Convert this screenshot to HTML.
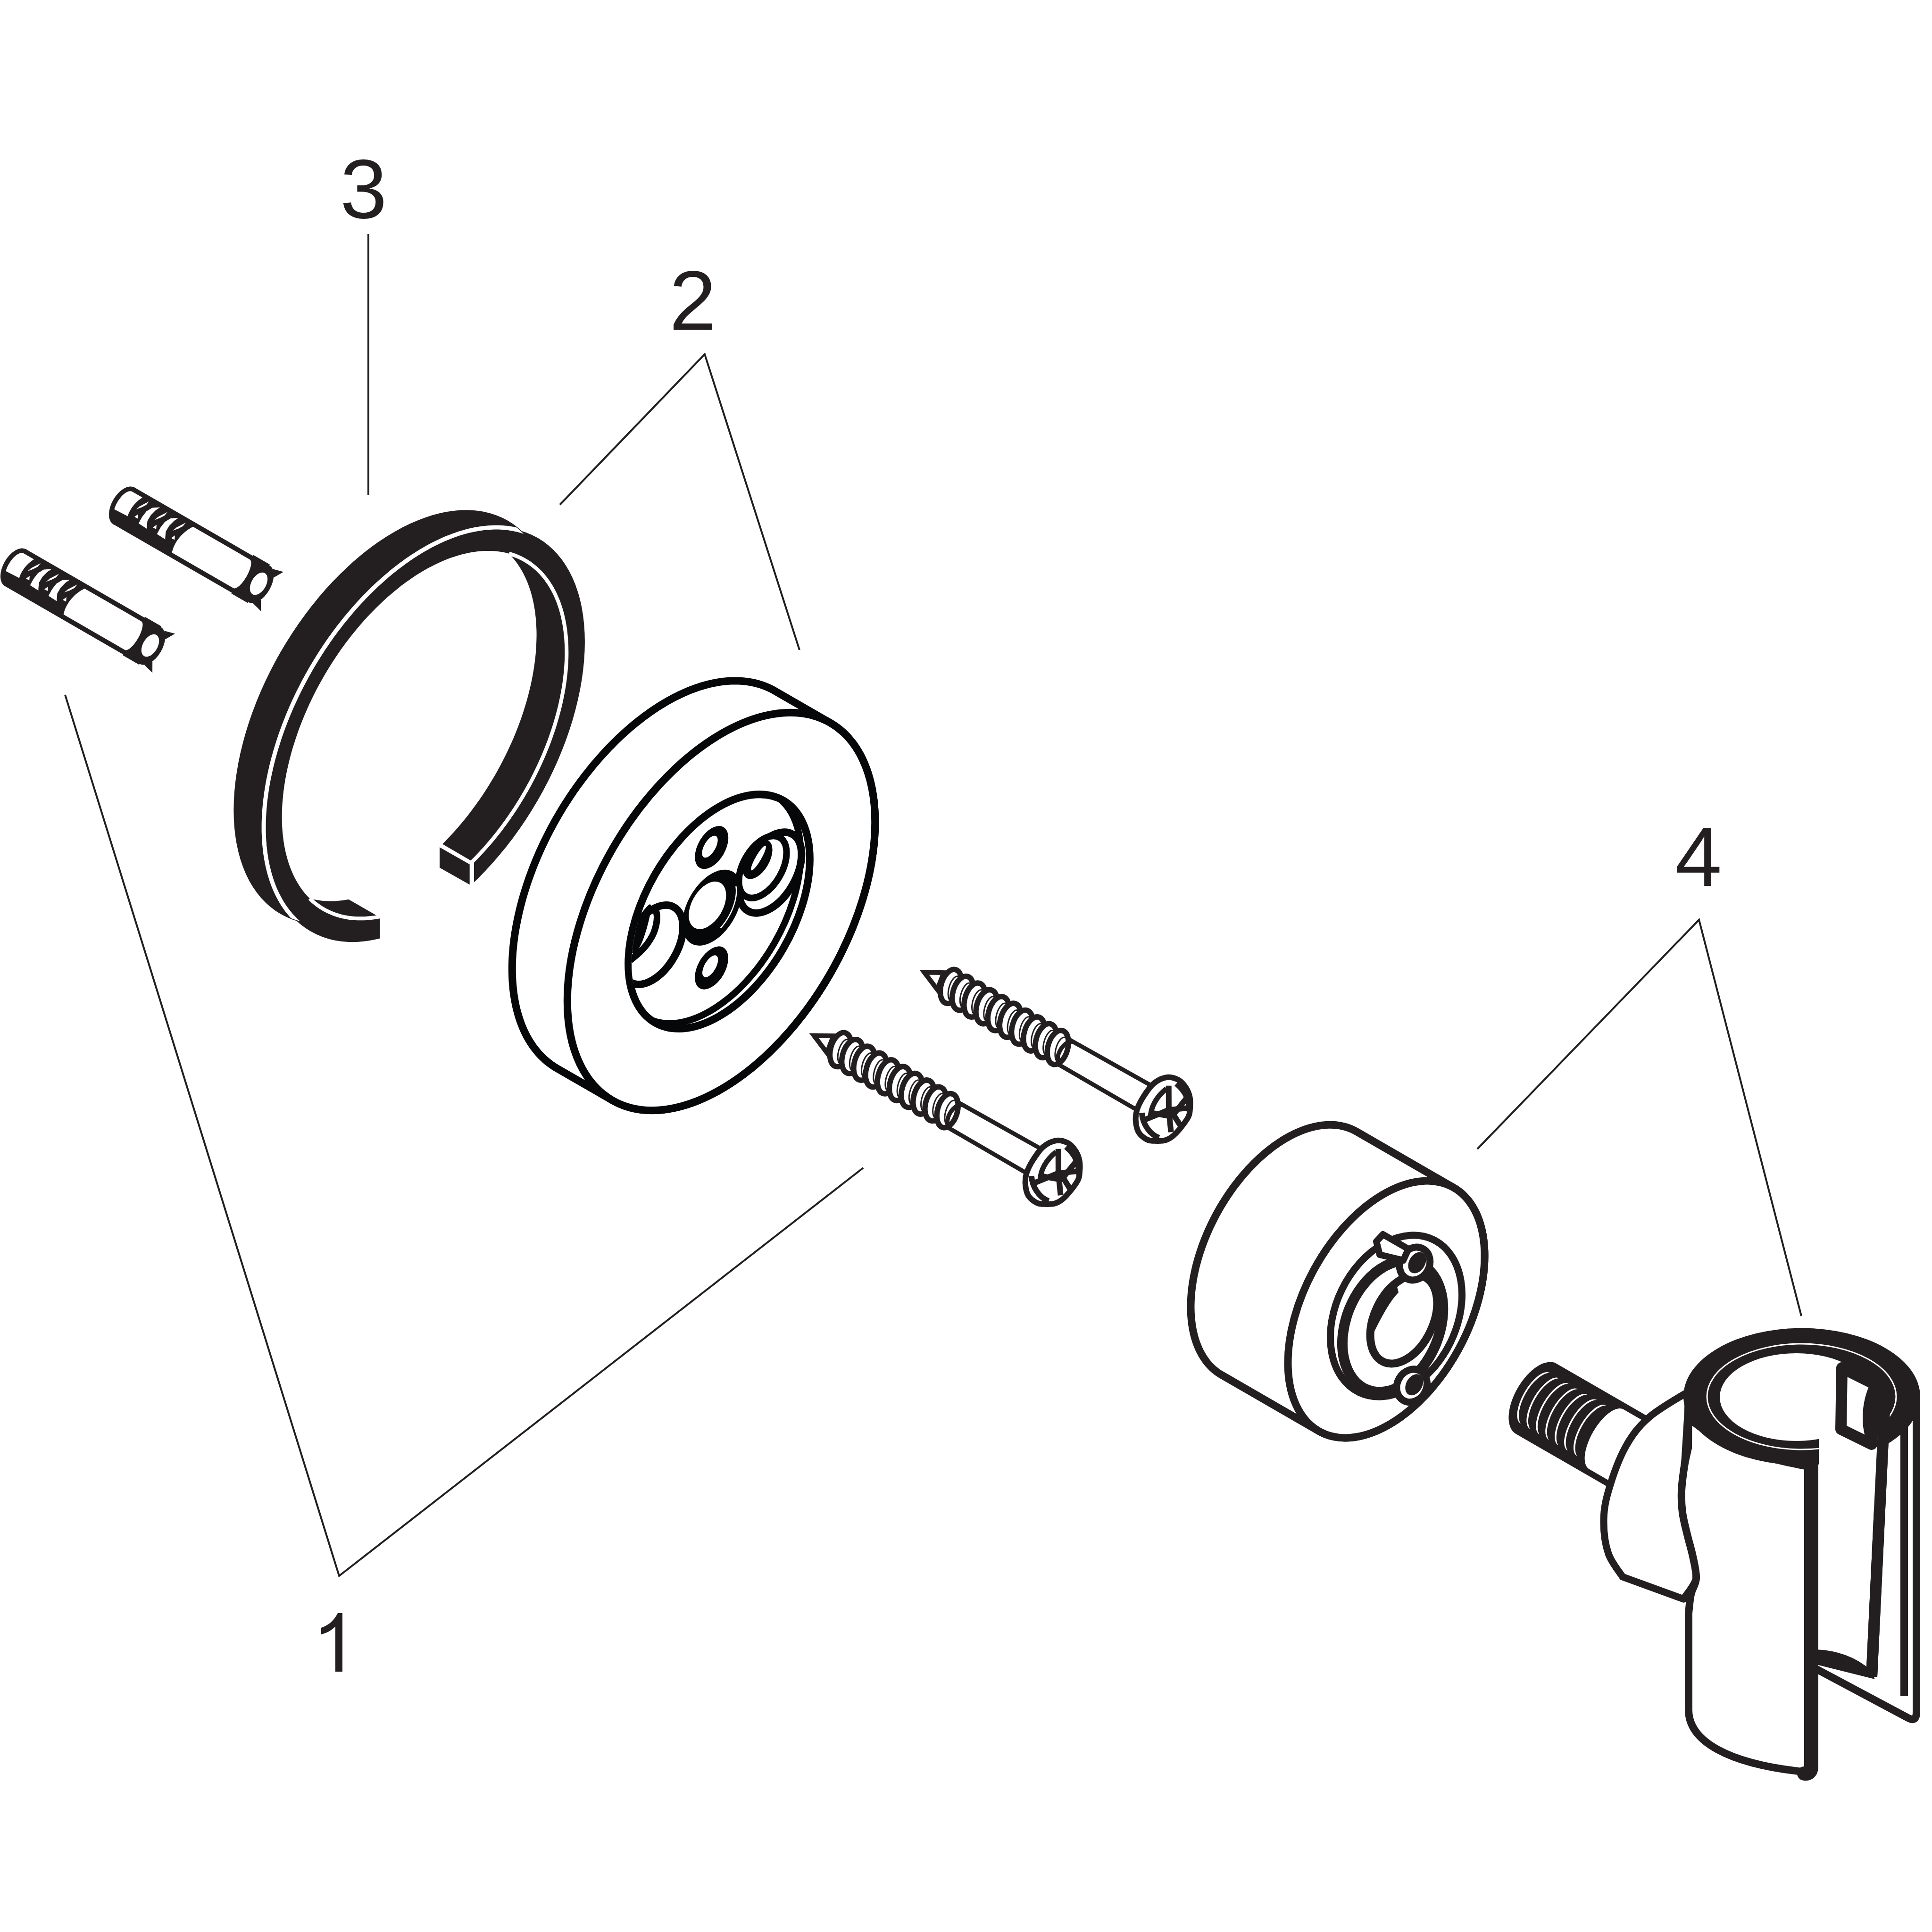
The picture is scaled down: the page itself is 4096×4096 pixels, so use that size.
<!DOCTYPE html>
<html><head><meta charset="utf-8"><style>html,body{margin:0;padding:0;background:#fff;width:4096px;height:4096px;overflow:hidden}svg{display:block}</style></head><body>
<svg xmlns="http://www.w3.org/2000/svg" xmlns:xlink="http://www.w3.org/1999/xlink" width="4096" height="4096" viewBox="0 0 4096 4096">
<rect width="4096" height="4096" fill="#fff"/>
<defs><g id="dowel">
<path d="M-330 -45 L-40 -45 L-40 -47 L0 -47 L0 47 L-40 47 L-40 45 L-330 45 Z" fill="#231f20"/>
<ellipse cx="-330" cy="0" rx="26" ry="45" fill="#231f20"/>
<ellipse cx="0" cy="0" rx="26" ry="45" fill="#231f20"/>
<path d="M-181 -35 L-42 -35 A12 35 0 0 1 -42 35 L-192 35 C-198 20 -198 -10 -181 -35 Z" fill="#fff"/>
<path d="M-304.8 -35 L-330 -35 A16 35 0 0 0 -344.1 16.5 L-312 15 C-316 0 -313 -20 -304.8 -35 Z" fill="#fff"/>
<path d="M-284.5 16.7 L-284.9 1.4 L-283 -14 L-275.9 -26.5 L-262.1 -35.7 L-267 -25.6 L-270.8 -11.5 L-270.9 2.8 L-265.6 14.2 L-263.6 17.7 Z" fill="#fff"/>
<path d="M-304 -6.3 L-300.5 -16.3 L-288.5 -34.8 L-290 -25.3 L-295.5 -16.8 Z" fill="#fff"/>
<path d="M-299 9 L-295 0.1 L-291 8.7 Z" fill="#fff"/>
<path d="M-239.5 16.7 L-239.9 1.4 L-238 -14 L-230.9 -26.5 L-217.1 -35.7 L-222 -25.6 L-225.8 -11.5 L-225.9 2.8 L-220.6 14.2 L-218.6 17.7 Z" fill="#fff"/>
<path d="M-259 -6.3 L-255.5 -16.3 L-243.5 -34.8 L-245 -25.3 L-250.5 -16.8 Z" fill="#fff"/>
<path d="M-254 9 L-250 0.1 L-246 8.7 Z" fill="#fff"/>
<path d="M-214 -6.3 L-210.5 -16.3 L-198.5 -34.8 L-200 -25.3 L-205.5 -16.8 Z" fill="#fff"/>
<path d="M-209 9 L-205 0.1 L-201 8.7 Z" fill="#fff"/>
<ellipse cx="0" cy="0" rx="15.6" ry="26" fill="#fff"/>
<path d="M10 -42 L33 -48 L21 -27 Z M10 42 L33 48 L21 27 Z" fill="#231f20"/>
</g><g id="screw">
<path d="M340 -28.5 L540 -30 L540 30 L340 28.5" fill="#fff" stroke="#231f20" stroke-width="9"/>
<path d="M4 0 L40 -20 L46 18 Z" fill="#fff" stroke="#231f20" stroke-width="10" stroke-linejoin="miter"/>
<ellipse cx="67.7" cy="-2" rx="21" ry="37" transform="rotate(-14 67.7 -2)" fill="#fff" stroke="#231f20" stroke-width="11.5"/>
<ellipse cx="76.7" cy="-2" rx="12" ry="27" transform="rotate(-14 76.7 -2)" fill="none" stroke="#231f20" stroke-width="3"/>
<ellipse cx="96.7" cy="-2" rx="21" ry="37" transform="rotate(-14 96.7 -2)" fill="#fff" stroke="#231f20" stroke-width="11.5"/>
<ellipse cx="105.7" cy="-2" rx="12" ry="27" transform="rotate(-14 105.7 -2)" fill="none" stroke="#231f20" stroke-width="3"/>
<ellipse cx="125.7" cy="-2" rx="21" ry="37" transform="rotate(-14 125.7 -2)" fill="#fff" stroke="#231f20" stroke-width="11.5"/>
<ellipse cx="134.7" cy="-2" rx="12" ry="27" transform="rotate(-14 134.7 -2)" fill="none" stroke="#231f20" stroke-width="3"/>
<ellipse cx="154.7" cy="-2" rx="21" ry="37" transform="rotate(-14 154.7 -2)" fill="#fff" stroke="#231f20" stroke-width="11.5"/>
<ellipse cx="163.7" cy="-2" rx="12" ry="27" transform="rotate(-14 163.7 -2)" fill="none" stroke="#231f20" stroke-width="3"/>
<ellipse cx="183.7" cy="-2" rx="21" ry="37" transform="rotate(-14 183.7 -2)" fill="#fff" stroke="#231f20" stroke-width="11.5"/>
<ellipse cx="192.7" cy="-2" rx="12" ry="27" transform="rotate(-14 192.7 -2)" fill="none" stroke="#231f20" stroke-width="3"/>
<ellipse cx="212.7" cy="-2" rx="21" ry="37" transform="rotate(-14 212.7 -2)" fill="#fff" stroke="#231f20" stroke-width="11.5"/>
<ellipse cx="221.7" cy="-2" rx="12" ry="27" transform="rotate(-14 221.7 -2)" fill="none" stroke="#231f20" stroke-width="3"/>
<ellipse cx="241.7" cy="-2" rx="21" ry="37" transform="rotate(-14 241.7 -2)" fill="#fff" stroke="#231f20" stroke-width="11.5"/>
<ellipse cx="250.7" cy="-2" rx="12" ry="27" transform="rotate(-14 250.7 -2)" fill="none" stroke="#231f20" stroke-width="3"/>
<ellipse cx="270.7" cy="-2" rx="21" ry="37" transform="rotate(-14 270.7 -2)" fill="#fff" stroke="#231f20" stroke-width="11.5"/>
<ellipse cx="279.7" cy="-2" rx="12" ry="27" transform="rotate(-14 279.7 -2)" fill="none" stroke="#231f20" stroke-width="3"/>
<ellipse cx="299.7" cy="-2" rx="21" ry="37" transform="rotate(-14 299.7 -2)" fill="#fff" stroke="#231f20" stroke-width="11.5"/>
<ellipse cx="308.7" cy="-2" rx="12" ry="27" transform="rotate(-14 308.7 -2)" fill="none" stroke="#231f20" stroke-width="3"/>
<ellipse cx="328.7" cy="-2" rx="21" ry="37" transform="rotate(-14 328.7 -2)" fill="#fff" stroke="#231f20" stroke-width="11.5"/>
<ellipse cx="337.7" cy="-2" rx="12" ry="27" transform="rotate(-14 337.7 -2)" fill="none" stroke="#231f20" stroke-width="3"/>
<path d="M352 -28 A 16 28 0 0 0 352 28" fill="none" stroke="#231f20" stroke-width="9"/>
<path d="M543 -36 C546.7 -46.2 553.2 -55.5 560 -61 C566.8 -66.5 576.3 -68.7 584 -69 C591.7 -69.3 599.3 -66.3 606 -63 C612.7 -59.7 619 -54.7 624 -49 C629 -43.3 633 -35.7 636 -29 C639 -22.3 642 -19.3 642 -9 C642 1.3 638.8 22.3 636 33 C633.2 43.7 630.3 49 625 55 C619.7 61 610.2 65.8 604 69 C597.8 72.2 594.3 74 588 74 C581.7 74 572.5 72.8 566 69 C559.5 65.2 553.3 57.5 549 51 C544.7 44.5 541.8 38.5 540 30 C538.2 21.5 537.5 11 538 0 C538.5 -11 539.3 -25.8 543 -36 Z" fill="#fff" stroke="#231f20" stroke-width="12"/>
<path d="M572 -40 C562 -15 562 10 573 30" fill="none" stroke="#231f20" stroke-width="11"/>
<g stroke="#231f20" stroke-width="12" fill="none" stroke-linejoin="round">
<path d="M573 -48 L598.6 -3.5 L633 -28"/>
<path d="M561 44.5 L598.6 -3.5 L626 35"/>
<path d="M585 -60 C610 -55 625 -45 640 -20"/>
<path d="M552 30 C565 50 590 62 610 58"/>
<path d="M620 -50 L612 0 L640 15"/>
<path d="M570 20 L612 5"/>
</g>
</g></defs>
<g font-family="Liberation Sans" font-size="179" fill="#231f20">
<text x="721" y="462">3</text>
<text x="1419" y="699">2</text>
<text x="3551" y="1878">4</text>
</g>
<path d="M711 3544 L726 3544 L726 3420 L716 3420 C708 3436 696 3446 681 3451 L681 3465 C693 3462 704 3456 711 3448 Z" fill="#231f20"/>
<g stroke="#231f20" stroke-width="4" fill="none">
<line x1="781" y1="496" x2="781" y2="1050"/>
<polyline points="1187,1070 1494,751 1695,1378"/>
<polyline points="138,1473 719,3341 1830,2476"/>
<polyline points="3132,2436 3602,1950 3819,2790"/>
</g>
<use href="#dowel" transform="translate(548.5 1237.5) rotate(30)"/>
<use href="#dowel" transform="translate(318.5 1368.5) rotate(30)"/>
<ellipse cx="835.8" cy="1520.8" rx="481.5" ry="277.9" transform="rotate(-60 835.8 1520.8)" fill="#231f20"/>
<ellipse cx="899.5" cy="1557.6" rx="481.5" ry="277.9" transform="rotate(-60 899.5 1557.6)" fill="#231f20"/>
<clipPath id="rFI"><path d="M1113 1187.8 L1118.5 1191.2 L1123.9 1194.8 L1129.1 1198.6 L1134.1 1202.7 L1139 1207 L1143.7 1211.6 L1148.3 1216.4 L1152.7 1221.5 L1156.9 1226.8 L1160.9 1232.3 L1164.8 1238 L1168.5 1244 L1172 1250.1 L1175.3 1256.5 L1178.4 1263.1 L1181.3 1269.9 L1184 1276.8 L1186.6 1284 L1188.9 1291.4 L1191 1298.9 L1193 1306.6 L1194.7 1314.5 L1196.3 1322.6 L1197.6 1330.8 L1198.7 1339.2 L1199.7 1347.7 L1200.4 1356.4 L1200.9 1365.2 L1201.2 1374.1 L1201.3 1383.2 L1201.2 1392.4 L1200.9 1401.7 L1200.4 1411.1 L1199.6 1420.6 L1198.7 1430.2 L1197.6 1439.9 L1196.2 1449.6 L1194.7 1459.5 L1192.9 1469.4 L1191 1479.4 L1188.8 1489.4 L1186.5 1499.4 L1183.9 1509.6 L1181.2 1519.7 L1178.3 1529.9 L1175.1 1540 L1171.8 1550.2 L1168.3 1560.5 L1164.7 1570.7 L1160.8 1580.8 L1156.7 1591 L1152.5 1601.2 L1148.1 1611.3 L1143.6 1621.4 L1138.8 1631.4 L1134 1641.4 L1128.9 1651.4 L1123.7 1661.2 L1118.3 1671 L1112.8 1680.8 L1107.1 1690.4 L1101.3 1699.9 L1095.4 1709.4 L1089.3 1718.7 L1083.1 1728 L1076.8 1737.1 L1070.3 1746.1 L1063.8 1754.9 L1057.1 1763.7 L1050.3 1772.3 L1043.4 1780.7 L1036.4 1789 L1029.3 1797.1 L1022.1 1805.1 L1014.9 1812.9 L1007.5 1820.5 L1000.1 1828 L992.6 1835.2 L985.1 1842.3 L977.5 1849.1 L969.8 1855.8 L962.1 1862.3 L954.4 1868.5 L946.6 1874.6 L938.8 1880.4 L930.9 1886 L923 1891.4 L915.2 1896.6 L907.3 1901.5 L899.4 1906.2 L891.5 1910.6 L883.6 1914.8 L875.7 1918.8 L867.8 1922.5 L860 1925.9 L852.2 1929.2 L844.4 1932.1 L836.6 1934.8 L828.9 1937.2 L821.3 1939.4 L813.7 1941.3 L806.1 1943 L798.6 1944.4 L791.2 1945.5 L783.9 1946.4 L776.6 1947 L769.4 1947.3 L762.4 1947.3 L755.4 1947.1 L748.5 1946.7 L741.7 1945.9 L735 1944.9 L728.4 1943.6 L722 1942.1 L715.7 1940.3 L709.5 1938.2 L703.4 1935.9 L697.5 1933.3 L691.7 1930.5 L686 1927.4 L680.5 1924 L675.1 1920.4 L669.9 1916.6 L664.9 1912.5 L660 1908.2 L655.3 1903.6 L650.7 1898.8 L646.3 1893.7 L642.1 1888.4 L638.1 1882.9 L634.2 1877.2 L630.5 1871.2 L627 1865.1 L623.7 1858.7 L620.6 1852.1 L617.7 1845.3 L615 1838.4 L612.4 1831.2 L610.1 1823.8 L608 1816.3 L606 1808.6 L604.3 1800.7 L602.7 1792.6 L601.4 1784.4 L600.3 1776 L599.3 1767.5 L598.6 1758.8 L598.1 1750 L597.8 1741.1 L597.7 1732 L597.8 1722.8 L598.1 1713.5 L598.6 1704.1 L599.4 1694.6 L600.3 1685 L601.4 1675.3 L602.8 1665.6 L604.3 1655.7 L606.1 1645.8 L608 1635.8 L610.2 1625.8 L612.5 1615.8 L615.1 1605.6 L617.8 1595.5 L620.7 1585.3 L623.9 1575.2 L627.2 1565 L630.7 1554.7 L634.3 1544.5 L638.2 1534.4 L642.3 1524.2 L646.5 1514 L650.9 1503.9 L655.4 1493.8 L660.2 1483.8 L665 1473.8 L670.1 1463.8 L675.3 1454 L680.7 1444.2 L686.2 1434.4 L691.9 1424.8 L697.7 1415.3 L703.6 1405.8 L709.7 1396.5 L715.9 1387.2 L722.2 1378.1 L728.7 1369.1 L735.2 1360.3 L741.9 1351.5 L748.7 1342.9 L755.6 1334.5 L762.6 1326.2 L769.7 1318.1 L776.9 1310.1 L784.1 1302.3 L791.5 1294.7 L798.9 1287.2 L806.4 1280 L813.9 1272.9 L821.5 1266.1 L829.2 1259.4 L836.9 1252.9 L844.6 1246.7 L852.4 1240.6 L860.2 1234.8 L868.1 1229.2 L876 1223.8 L883.8 1218.6 L891.7 1213.7 L899.6 1209 L907.5 1204.6 L915.4 1200.4 L923.3 1196.4 L931.2 1192.7 L939 1189.3 L946.8 1186 L954.6 1183.1 L962.4 1180.4 L970.1 1178 L977.7 1175.8 L985.3 1173.9 L992.9 1172.2 L1000.4 1170.8 L1007.8 1169.7 L1015.1 1168.8 L1022.4 1168.2 L1029.6 1167.9 L1036.6 1167.9 L1043.6 1168.1 L1050.5 1168.5 L1057.3 1169.3 L1064 1170.3 L1070.6 1171.6 L1077 1173.1 L1083.3 1174.9 L1089.5 1177 L1095.6 1179.3 L1101.5 1181.9 L1107.3 1184.7 L1113 1187.8 Z"/></clipPath>
<path d="M1049.3 1151 L1054.8 1154.4 L1060.1 1158 L1065.3 1161.8 L1070.4 1165.9 L1075.3 1170.2 L1080 1174.8 L1084.6 1179.6 L1088.9 1184.7 L1093.2 1190 L1097.2 1195.5 L1101 1201.2 L1104.7 1207.2 L1108.2 1213.3 L1111.5 1219.7 L1114.6 1226.3 L1117.6 1233.1 L1120.3 1240 L1122.8 1247.2 L1125.2 1254.6 L1127.3 1262.1 L1129.2 1269.8 L1131 1277.7 L1132.5 1285.8 L1133.9 1294 L1135 1302.4 L1135.9 1310.9 L1136.6 1319.6 L1137.1 1328.4 L1137.5 1337.3 L1137.6 1346.4 L1137.4 1355.6 L1137.1 1364.9 L1136.6 1374.3 L1135.9 1383.8 L1135 1393.4 L1133.8 1403.1 L1132.5 1412.8 L1130.9 1422.7 L1129.2 1432.6 L1127.2 1442.6 L1125.1 1452.6 L1122.7 1462.6 L1120.2 1472.8 L1117.5 1482.9 L1114.5 1493.1 L1111.4 1503.2 L1108.1 1513.4 L1104.6 1523.7 L1100.9 1533.9 L1097.1 1544 L1093 1554.2 L1088.8 1564.4 L1084.4 1574.5 L1079.8 1584.6 L1075.1 1594.6 L1070.2 1604.6 L1065.2 1614.6 L1059.9 1624.4 L1054.6 1634.2 L1049.1 1644 L1043.4 1653.6 L1037.6 1663.1 L1031.7 1672.6 L1025.6 1681.9 L1019.4 1691.2 L1013 1700.3 L1006.6 1709.3 L1000 1718.1 L993.3 1726.9 L986.5 1735.5 L979.6 1743.9 L972.6 1752.2 L965.6 1760.3 L958.4 1768.3 L951.1 1776.1 L943.8 1783.7 L936.4 1791.2 L928.9 1798.4 L921.3 1805.5 L913.7 1812.3 L906.1 1819 L898.4 1825.5 L890.6 1831.7 L882.8 1837.8 L875 1843.6 L867.2 1849.2 L859.3 1854.6 L851.4 1859.8 L843.5 1864.7 L835.6 1869.4 L827.7 1873.8 L819.8 1878 L811.9 1882 L804.1 1885.7 L796.2 1889.1 L788.4 1892.4 L780.6 1895.3 L772.9 1898 L765.2 1900.4 L757.5 1902.6 L749.9 1904.5 L742.4 1906.2 L734.9 1907.6 L727.5 1908.7 L720.1 1909.6 L712.9 1910.2 L705.7 1910.5 L698.6 1910.5 L691.6 1910.3 L684.7 1909.9 L678 1909.1 L671.3 1908.1 L664.7 1906.8 L658.3 1905.3 L651.9 1903.5 L645.7 1901.4 L639.7 1899.1 L633.7 1896.5 L627.9 1893.7 L622.3 1890.6 L616.8 1887.2 L611.4 1883.6 L606.2 1879.8 L601.1 1875.7 L596.2 1871.4 L591.5 1866.8 L587 1862 L582.6 1856.9 L578.4 1851.6 L574.3 1846.1 L570.5 1840.4 L566.8 1834.4 L563.3 1828.3 L560 1821.9 L556.9 1815.3 L554 1808.5 L551.2 1801.6 L548.7 1794.4 L546.4 1787 L544.2 1779.5 L542.3 1771.8 L540.5 1763.9 L539 1755.8 L537.7 1747.6 L536.5 1739.2 L535.6 1730.7 L534.9 1722 L534.4 1713.2 L534.1 1704.3 L534 1695.2 L534.1 1686 L534.4 1676.7 L534.9 1667.3 L535.6 1657.8 L536.6 1648.2 L537.7 1638.5 L539 1628.8 L540.6 1618.9 L542.3 1609 L544.3 1599 L546.4 1589 L548.8 1579 L551.3 1568.8 L554.1 1558.7 L557 1548.5 L560.1 1538.4 L563.4 1528.2 L566.9 1517.9 L570.6 1507.7 L574.5 1497.6 L578.5 1487.4 L582.7 1477.2 L587.1 1467.1 L591.7 1457 L596.4 1447 L601.3 1437 L606.4 1427 L611.6 1417.2 L616.9 1407.4 L622.5 1397.6 L628.1 1388 L633.9 1378.5 L639.9 1369 L645.9 1359.7 L652.2 1350.4 L658.5 1341.3 L664.9 1332.3 L671.5 1323.5 L678.2 1314.7 L685 1306.1 L691.9 1297.7 L698.9 1289.4 L706 1281.3 L713.1 1273.3 L720.4 1265.5 L727.7 1257.9 L735.2 1250.4 L742.6 1243.2 L750.2 1236.1 L757.8 1229.3 L765.4 1222.6 L773.2 1216.1 L780.9 1209.9 L788.7 1203.8 L796.5 1198 L804.4 1192.4 L812.2 1187 L820.1 1181.8 L828 1176.9 L835.9 1172.2 L843.8 1167.8 L851.7 1163.6 L859.6 1159.6 L867.4 1155.9 L875.3 1152.5 L883.1 1149.2 L890.9 1146.3 L898.6 1143.6 L906.3 1141.2 L914 1139 L921.6 1137.1 L929.2 1135.4 L936.6 1134 L944 1132.9 L951.4 1132 L958.6 1131.4 L965.8 1131.1 L972.9 1131.1 L979.9 1131.3 L986.8 1131.7 L993.6 1132.5 L1000.2 1133.5 L1006.8 1134.8 L1013.3 1136.3 L1019.6 1138.1 L1025.8 1140.2 L1031.9 1142.5 L1037.8 1145.1 L1043.6 1147.9 L1049.3 1151 Z" fill="#fff" clip-path="url(#rFI)"/>
<clipPath id="rBO"><path d="M1075.8 1105.1 L1081.9 1108.9 L1088 1112.9 L1093.8 1117.2 L1099.5 1121.8 L1105 1126.7 L1110.3 1131.8 L1115.4 1137.3 L1120.3 1142.9 L1125 1148.9 L1129.5 1155 L1133.9 1161.5 L1138 1168.2 L1141.9 1175.1 L1145.6 1182.2 L1149.1 1189.6 L1152.4 1197.3 L1155.4 1205.1 L1158.3 1213.2 L1160.9 1221.4 L1163.3 1229.9 L1165.5 1238.6 L1167.4 1247.4 L1169.1 1256.5 L1170.6 1265.7 L1171.9 1275.1 L1172.9 1284.7 L1173.7 1294.5 L1174.3 1304.4 L1174.6 1314.4 L1174.7 1324.6 L1174.6 1334.9 L1174.2 1345.4 L1173.6 1355.9 L1172.8 1366.6 L1171.8 1377.4 L1170.5 1388.3 L1169 1399.2 L1167.2 1410.3 L1165.3 1421.4 L1163.1 1432.6 L1160.6 1443.9 L1158 1455.2 L1155.1 1466.6 L1152.1 1478 L1148.8 1489.4 L1145.2 1500.9 L1141.5 1512.3 L1137.6 1523.8 L1133.4 1535.2 L1129.1 1546.7 L1124.5 1558.1 L1119.8 1569.6 L1114.9 1580.9 L1109.7 1592.3 L1104.4 1603.6 L1098.9 1614.8 L1093.2 1626 L1087.4 1637.1 L1081.3 1648.1 L1075.1 1659 L1068.8 1669.8 L1062.2 1680.6 L1055.6 1691.2 L1048.7 1701.7 L1041.8 1712.1 L1034.6 1722.3 L1027.4 1732.4 L1020 1742.4 L1012.5 1752.2 L1004.9 1761.9 L997.1 1771.4 L989.3 1780.7 L981.3 1789.8 L973.2 1798.8 L965.1 1807.6 L956.8 1816.1 L948.5 1824.5 L940.1 1832.7 L931.6 1840.6 L923.1 1848.3 L914.5 1855.8 L905.8 1863.1 L897.1 1870.1 L888.3 1876.9 L879.6 1883.5 L870.7 1889.8 L861.9 1895.9 L853.1 1901.7 L844.2 1907.2 L835.3 1912.5 L826.4 1917.5 L817.6 1922.2 L808.7 1926.6 L799.9 1930.8 L791.1 1934.7 L782.3 1938.3 L773.6 1941.7 L764.8 1944.7 L756.2 1947.4 L747.6 1949.9 L739.1 1952.1 L730.6 1953.9 L722.2 1955.5 L713.9 1956.8 L705.6 1957.7 L697.5 1958.4 L689.4 1958.8 L681.5 1958.9 L673.6 1958.6 L665.9 1958.1 L658.3 1957.3 L650.8 1956.1 L643.4 1954.7 L636.2 1953 L629.1 1951 L622.1 1948.7 L615.3 1946.1 L608.6 1943.2 L602.1 1940 L595.8 1936.5 L589.6 1932.7 L583.6 1928.7 L577.7 1924.4 L572.1 1919.8 L566.6 1914.9 L561.3 1909.8 L556.2 1904.3 L551.2 1898.7 L546.5 1892.7 L542 1886.6 L537.7 1880.1 L533.5 1873.4 L529.6 1866.5 L525.9 1859.4 L522.4 1852 L519.1 1844.3 L516.1 1836.5 L513.2 1828.4 L510.6 1820.2 L508.2 1811.7 L506.1 1803 L504.1 1794.2 L502.4 1785.1 L500.9 1775.9 L499.6 1766.5 L498.6 1756.9 L497.8 1747.1 L497.2 1737.2 L496.9 1727.2 L496.8 1717 L496.9 1706.7 L497.3 1696.2 L497.9 1685.7 L498.7 1675 L499.8 1664.2 L501 1653.3 L502.6 1642.4 L504.3 1631.3 L506.3 1620.2 L508.5 1609 L510.9 1597.7 L513.5 1586.4 L516.4 1575 L519.5 1563.6 L522.8 1552.2 L526.3 1540.7 L530 1529.3 L533.9 1517.8 L538.1 1506.4 L542.4 1494.9 L547 1483.5 L551.7 1472 L556.7 1460.7 L561.8 1449.3 L567.1 1438 L572.6 1426.8 L578.3 1415.6 L584.2 1404.5 L590.2 1393.5 L596.4 1382.6 L602.8 1371.8 L609.3 1361 L616 1350.4 L622.8 1339.9 L629.8 1329.5 L636.9 1319.3 L644.1 1309.2 L651.5 1299.2 L659 1289.4 L666.7 1279.7 L674.4 1270.2 L682.3 1260.9 L690.2 1251.8 L698.3 1242.8 L706.5 1234 L714.7 1225.5 L723 1217.1 L731.4 1208.9 L739.9 1201 L748.5 1193.3 L757.1 1185.8 L765.7 1178.5 L774.4 1171.5 L783.2 1164.7 L792 1158.1 L800.8 1151.8 L809.6 1145.7 L818.5 1139.9 L827.3 1134.4 L836.2 1129.1 L845.1 1124.1 L853.9 1119.4 L862.8 1115 L871.6 1110.8 L880.4 1106.9 L889.2 1103.3 L898 1099.9 L906.7 1096.9 L915.3 1094.2 L923.9 1091.7 L932.5 1089.5 L940.9 1087.7 L949.3 1086.1 L957.7 1084.8 L965.9 1083.9 L974 1083.2 L982.1 1082.8 L990 1082.7 L997.9 1083 L1005.6 1083.5 L1013.2 1084.3 L1020.7 1085.5 L1028.1 1086.9 L1035.4 1088.6 L1042.5 1090.6 L1049.4 1092.9 L1056.2 1095.5 L1062.9 1098.4 L1069.4 1101.6 L1075.8 1105.1 Z"/></clipPath>
<path d="M632.3 1955.5 L629.3 1952.8 L626.3 1949.9 L623.4 1947 L620.5 1944 L617.7 1940.9 L614.9 1937.7 L612.3 1934.5 L609.6 1931.2 L607.1 1927.8 L604.6 1924.3 L602.1 1920.7 L599.7 1917.1 L597.4 1913.3 L595.2 1909.6 L593 1905.7 L590.9 1901.7 L588.8 1897.7 L586.8 1893.6 L584.9 1889.5 L583 1885.3 L581.2 1881 L579.5 1876.6 L577.9 1872.2 L576.3 1867.7 L574.8 1863.1 L573.3 1858.5 L571.9 1853.8 L570.6 1849 L569.4 1844.2 L568.2 1839.3 L567.1 1834.4 L566.1 1829.4 L565.1 1824.4 L564.2 1819.2 L563.4 1814.1 L562.6 1808.9 L562 1803.6 L561.4 1798.3 L560.8 1792.9 L560.4 1787.5 L560 1782 L559.6 1776.5 L559.4 1770.9 L559.2 1765.3 L559.1 1759.6 L559.1 1753.9 L559.1 1748.2 L559.2 1742.4 L559.4 1736.6 L559.7 1730.7 L560 1724.8 L560.4 1718.9 L560.9 1712.9 L561.4 1706.9 L562 1700.9 L562.7 1694.8 L563.5 1688.8 L564.3 1682.6 L565.2 1676.5 L566.2 1670.3 L567.2 1664.1 L568.3 1657.9 L569.5 1651.7 L570.8 1645.4 L572.1 1639.2 L573.5 1632.9 L574.9 1626.6 L576.5 1620.2 L578.1 1613.9 L579.7 1607.6 L581.5 1601.2 L583.3 1594.8 L585.1 1588.5 L587.1 1582.1 L589.1 1575.7 L591.1 1569.3 L593.2 1562.9 L595.4 1556.5 L597.7 1550.1 L600 1543.7 L602.4 1537.3 L604.9 1530.9 L607.4 1524.6 L609.9 1518.2 L612.6 1511.8 L615.3 1505.5 L618 1499.1 L620.8 1492.8 L623.7 1486.5 L626.7 1480.2 L629.6 1473.9 L632.7 1467.6 L635.8 1461.4 L639 1455.2 L642.2 1448.9 L645.4 1442.8 L648.8 1436.6 L652.1 1430.5 L655.6 1424.4 L659 1418.3 L662.6 1412.2 L666.2 1406.2 L669.8 1400.2 L673.5 1394.3 L677.2 1388.4 L681 1382.5 L684.8 1376.6 L688.6 1370.8 L692.6 1365.1 L696.5 1359.3 L700.5 1353.6 L704.5 1348 L708.6 1342.4 L712.7 1336.9 L716.9 1331.3 L721.1 1325.9 L725.3 1320.5 L729.6 1315.1 L733.9 1309.8 L738.3 1304.6 L742.6 1299.4 L747.1 1294.2 L751.5 1289.1 L756 1284.1 L760.5 1279.1 L765 1274.2 L769.6 1269.3 L774.2 1264.5 L778.8 1259.8 L783.4 1255.1 L788.1 1250.5 L792.8 1246 L797.5 1241.5 L802.2 1237.1 L807 1232.8 L811.8 1228.5 L816.6 1224.3 L821.4 1220.1 L826.2 1216.1 L831 1212.1 L835.9 1208.2 L840.8 1204.3 L845.7 1200.6 L850.6 1196.9 L855.5 1193.3 L860.4 1189.7 L865.3 1186.3 L870.2 1182.9 L875.2 1179.6 L880.1 1176.4 L885.1 1173.2 L890 1170.2 L895 1167.2 L899.9 1164.3 L904.9 1161.5 L909.8 1158.7 L914.8 1156.1 L919.7 1153.5 L924.6 1151.1 L929.6 1148.7 L934.5 1146.4 L939.4 1144.2 L944.3 1142 L949.3 1140 L954.1 1138.1 L959 1136.2 L963.9 1134.4 L968.8 1132.7 L973.6 1131.1 L978.4 1129.6 L983.2 1128.2 L988 1126.9 L992.8 1125.7 L997.5 1124.5 L1002.3 1123.5 L1007 1122.5 L1011.7 1121.7 L1016.3 1120.9 L1021 1120.2 L1025.6 1119.6 L1030.2 1119.1 L1034.7 1118.7 L1039.3 1118.4 L1043.8 1118.2 L1048.2 1118.1 L1052.7 1118.1 L1057.1 1118.1 L1061.4 1118.3 L1065.8 1118.5 L1070.1 1118.9 L1074.4 1119.3 L1078.6 1119.8 L1082.8 1120.5 L1086.9 1121.2 L1091 1122 L1095.1 1122.9 L1099.2 1123.9 L1103.1 1125 L1107.1 1126.1 L1111 1127.4" fill="none" stroke="#fff" stroke-width="9" clip-path="url(#rBO)"/>
<path d="M1079.1 1173.7 L1083.3 1174.9 L1087.4 1176.2 L1091.4 1177.6 L1095.4 1179.2 L1099.3 1180.9 L1103.2 1182.6 L1107 1184.5 L1110.7 1186.5 L1114.4 1188.6 L1118 1190.8 L1121.5 1193.1 L1125 1195.6 L1128.4 1198.1 L1131.8 1200.8 L1135.1 1203.5 L1138.3 1206.4 L1141.4 1209.3 L1144.5 1212.4 L1147.5 1215.5 L1150.4 1218.8 L1153.2 1222.2 L1156 1225.6 L1158.7 1229.2 L1161.3 1232.9 L1163.9 1236.6 L1166.3 1240.5 L1168.7 1244.4 L1171 1248.4 L1173.3 1252.6 L1175.4 1256.8 L1177.5 1261.1 L1179.4 1265.5 L1181.3 1270 L1183.2 1274.5 L1184.9 1279.2 L1186.5 1283.9 L1188.1 1288.7 L1189.6 1293.6 L1191 1298.6 L1192.3 1303.6 L1193.5 1308.8 L1194.6 1314 L1195.7 1319.2 L1196.6 1324.6 L1197.5 1330 L1198.3 1335.4 L1198.9 1341 L1199.5 1346.6 L1200.1 1352.3 L1200.5 1358 L1200.8 1363.8 L1201.1 1369.6 L1201.2 1375.5 L1201.3 1381.5 L1201.3 1387.5 L1201.2 1393.5 L1201 1399.6 L1200.7 1405.8 L1200.3 1412 L1199.8 1418.2 L1199.3 1424.5 L1198.6 1430.8 L1197.9 1437.2 L1197.1 1443.6 L1196.2 1450 L1195.2 1456.5 L1194.1 1463 L1192.9 1469.5 L1191.6 1476 L1190.3 1482.6 L1188.9 1489.2 L1187.4 1495.8 L1185.8 1502.4 L1184.1 1509.1 L1182.3 1515.7 L1180.4 1522.4 L1178.5 1529.1 L1176.5 1535.8 L1174.4 1542.5 L1172.2 1549.2 L1169.9 1555.9 L1167.6 1562.6 L1165.2 1569.3 L1162.7 1576 L1160.1 1582.7 L1157.4 1589.3 L1154.7 1596 L1151.9 1602.7 L1149 1609.3 L1146 1616 L1143 1622.6 L1139.9 1629.2 L1136.7 1635.8 L1133.5 1642.3 L1130.2 1648.9 L1126.8 1655.4 L1123.4 1661.8 L1119.8 1668.3 L1116.3 1674.7 L1112.6 1681.1 L1108.9 1687.4 L1105.1 1693.7 L1101.3 1700 L1097.4 1706.2 L1093.5 1712.4 L1089.5 1718.5 L1085.4 1724.6 L1081.3 1730.6 L1077.1 1736.6 L1072.9 1742.5 L1068.6 1748.4 L1064.3 1754.2 L1059.9 1760 L1055.5 1765.7 L1051 1771.3 L1046.5 1776.9 L1042 1782.4 L1037.4 1787.8 L1032.7 1793.2 L1028.1 1798.5 L1023.3 1803.8 L1018.6 1808.9 L1013.8 1814 L1009 1819 L1004.1 1823.9 L999.2 1828.8 L994.3 1833.6 L989.4 1838.3 L984.4 1842.9 L979.4 1847.4 L974.4 1851.8 L969.4 1856.2 L964.3 1860.5 L959.2 1864.6 L954.1 1868.7 L949 1872.7 L943.9 1876.6 L938.8 1880.4 L933.6 1884.1 L928.4 1887.7 L923.3 1891.2 L918.1 1894.7 L912.9 1898 L907.7 1901.2 L902.5 1904.3 L897.3 1907.3 L892.2 1910.2 L887 1913 L881.8 1915.7 L876.6 1918.3 L871.4 1920.8 L866.3 1923.2 L861.1 1925.5 L856 1927.6 L850.8 1929.7 L845.7 1931.6 L840.6 1933.4 L835.5 1935.2 L830.5 1936.8 L825.4 1938.3 L820.4 1939.6 L815.4 1940.9 L810.4 1942.1 L805.5 1943.1 L800.6 1944 L795.7 1944.9 L790.8 1945.6 L786 1946.1 L781.2 1946.6 L776.5 1947 L771.7 1947.2 L767 1947.3 L762.4 1947.3 L757.8 1947.2 L753.2 1947 L748.7 1946.7 L744.2 1946.2 L739.8 1945.7 L735.4 1945 L731.1 1944.2 L726.8 1943.3 L722.6 1942.3 L718.4 1941.1 L714.3 1939.9 L710.2 1938.5 L706.2 1937 L702.2 1935.4 L698.3 1933.7 L694.5 1931.9 L690.7 1930 L687 1928 L683.4 1925.8 L679.8 1923.6 L676.2 1921.2 L672.8 1918.7 L669.4 1916.2 L666.1 1913.5 L662.8 1910.7 L659.6 1907.8 L656.5 1904.8" fill="none" stroke="#fff" stroke-width="8"/>
<path d="M805.5 2100 L805.5 1945 L735 1904.4 L930 1784.8 L1005 1828.4 L1005 2100 Z" fill="#fff"/>
<path d="M932 1796.3 L995.7 1832.5 L995.7 1875.4 L932 1839.4 Z" fill="#231f20"/>
<path d="M1085.8 2053.9 L1085.8 2047.3 L1086 2040.6 L1086.2 2033.9 L1086.6 2027.1 L1087 2020.3 L1087.6 2013.4 L1088.2 2006.5 L1089 1999.6 L1089.8 1992.6 L1090.8 1985.5 L1091.8 1978.5 L1093 1971.4 L1094.2 1964.2 L1095.6 1957.1 L1097 1949.9 L1098.5 1942.7 L1100.2 1935.4 L1101.9 1928.1 L1103.7 1920.8 L1105.6 1913.5 L1107.6 1906.2 L1109.7 1898.9 L1111.9 1891.6 L1114.2 1884.2 L1116.5 1876.9 L1119 1869.5 L1121.5 1862.2 L1124.2 1854.8 L1126.9 1847.4 L1129.7 1840.1 L1132.6 1832.7 L1135.6 1825.4 L1138.6 1818.1 L1141.8 1810.8 L1145 1803.5 L1148.3 1796.2 L1151.7 1789 L1155.2 1781.8 L1158.8 1774.5 L1162.4 1767.4 L1166.1 1760.2 L1169.9 1753.1 L1173.7 1746 L1177.6 1739 L1181.6 1732 L1185.7 1725 L1189.8 1718.1 L1194 1711.2 L1198.3 1704.4 L1202.7 1697.6 L1207 1690.9 L1211.5 1684.2 L1216 1677.6 L1220.6 1671 L1225.2 1664.5 L1230 1658.1 L1234.7 1651.7 L1239.5 1645.4 L1244.4 1639.2 L1249.3 1633 L1254.2 1626.9 L1259.2 1620.8 L1264.3 1614.9 L1269.4 1609 L1274.5 1603.2 L1279.7 1597.5 L1285 1591.8 L1290.2 1586.2 L1295.5 1580.8 L1300.8 1575.4 L1306.2 1570.1 L1311.6 1564.8 L1317 1559.7 L1322.5 1554.7 L1328 1549.8 L1333.5 1544.9 L1339 1540.2 L1344.6 1535.5 L1350.2 1531 L1355.8 1526.6 L1361.4 1522.2 L1367 1518 L1372.7 1513.9 L1378.3 1509.8 L1384 1505.9 L1389.7 1502.1 L1395.4 1498.4 L1401.1 1494.9 L1406.8 1491.4 L1412.5 1488 L1418.1 1484.8 L1423.8 1481.7 L1429.5 1478.7 L1435.2 1475.8 L1440.9 1473 L1446.5 1470.4 L1452.2 1467.8 L1457.8 1465.4 L1463.5 1463.1 L1469.1 1461 L1474.7 1458.9 L1480.3 1457 L1485.8 1455.2 L1491.4 1453.5 L1496.9 1452 L1502.4 1450.6 L1507.8 1449.3 L1513.2 1448.1 L1518.6 1447.1 L1524 1446.2 L1529.3 1445.4 L1534.6 1444.7 L1539.9 1444.2 L1545.1 1443.8 L1550.3 1443.5 L1555.4 1443.4 L1560.5 1443.4 L1565.5 1443.5 L1570.5 1443.7 L1575.5 1444.1 L1580.4 1444.6 L1585.3 1445.2 L1590.1 1446 L1594.8 1446.9 L1599.5 1447.9 L1604.1 1449 L1608.7 1450.3 L1613.2 1451.7 L1617.7 1453.2 L1622 1454.8 L1626.4 1456.6 L1630.6 1458.5 L1634.8 1460.5 L1638.9 1462.6 L1643 1464.9 L1760 1532.4 L1764 1534.8 L1767.9 1537.3 L1771.7 1539.9 L1775.5 1542.7 L1779.2 1545.5 L1782.8 1548.5 L1786.3 1551.6 L1789.8 1554.8 L1793.2 1558.1 L1796.5 1561.6 L1799.7 1565.1 L1802.8 1568.8 L1805.9 1572.6 L1808.9 1576.5 L1811.8 1580.5 L1814.5 1584.6 L1817.3 1588.8 L1819.9 1593.1 L1822.4 1597.5 L1824.9 1602 L1827.2 1606.6 L1829.5 1611.3 L1831.7 1616.2 L1833.7 1621.1 L1835.7 1626.1 L1837.6 1631.2 L1839.4 1636.4 L1841.1 1641.7 L1842.7 1647 L1844.2 1652.5 L1845.7 1658 L1847 1663.7 L1848.2 1669.4 L1849.3 1675.2 L1850.3 1681 L1851.3 1687 L1852.1 1693 L1852.9 1699.1 L1853.5 1705.3 L1854 1711.5 L1854.5 1717.8 L1854.8 1724.2 L1855 1730.6 L1855.2 1737.1 L1855.2 1743.6 L1855.2 1750.2 L1855 1756.9 L1854.8 1763.6 L1854.4 1770.4 L1854 1777.2 L1853.4 1784.1 L1852.8 1791 L1852 1797.9 L1851.2 1804.9 L1850.2 1812 L1849.2 1819 L1848 1826.1 L1846.8 1833.3 L1845.4 1840.4 L1844 1847.6 L1842.5 1854.8 L1840.8 1862.1 L1839.1 1869.4 L1837.3 1876.7 L1835.4 1884 L1833.4 1891.3 L1831.3 1898.6 L1829.1 1905.9 L1826.8 1913.3 L1824.5 1920.6 L1822 1928 L1819.5 1935.3 L1816.8 1942.7 L1814.1 1950.1 L1811.3 1957.4 L1808.4 1964.8 L1805.4 1972.1 L1802.4 1979.4 L1799.2 1986.7 L1796 1994 L1792.7 2001.3 L1789.3 2008.5 L1785.8 2015.8 L1782.2 2023 L1778.6 2030.1 L1774.9 2037.3 L1771.1 2044.4 L1767.3 2051.5 L1763.4 2058.5 L1759.4 2065.5 L1755.3 2072.5 L1751.2 2079.4 L1747 2086.3 L1742.7 2093.1 L1738.3 2099.9 L1734 2106.6 L1729.5 2113.3 L1725 2119.9 L1720.4 2126.4 L1715.8 2133 L1711 2139.4 L1706.3 2145.8 L1701.5 2152.1 L1696.6 2158.3 L1691.7 2164.5 L1686.8 2170.6 L1681.8 2176.7 L1676.7 2182.6 L1671.6 2188.5 L1666.5 2194.3 L1661.3 2200.1 L1656 2205.7 L1650.8 2211.3 L1645.5 2216.7 L1640.2 2222.1 L1634.8 2227.4 L1629.4 2232.7 L1624 2237.8 L1618.5 2242.8 L1613 2247.7 L1607.5 2252.6 L1602 2257.3 L1596.4 2262 L1590.8 2266.5 L1585.2 2270.9 L1579.6 2275.3 L1574 2279.5 L1568.3 2283.6 L1562.7 2287.7 L1557 2291.6 L1551.3 2295.4 L1545.6 2299.1 L1539.9 2302.6 L1534.2 2306.1 L1528.5 2309.5 L1522.9 2312.7 L1517.2 2315.8 L1511.5 2318.8 L1505.8 2321.7 L1500.1 2324.5 L1494.5 2327.1 L1488.8 2329.7 L1483.2 2332.1 L1477.5 2334.4 L1471.9 2336.5 L1466.3 2338.6 L1460.7 2340.5 L1455.2 2342.3 L1449.6 2344 L1444.1 2345.5 L1438.6 2346.9 L1433.2 2348.2 L1427.8 2349.4 L1422.4 2350.4 L1417 2351.3 L1411.7 2352.1 L1406.4 2352.8 L1401.1 2353.3 L1395.9 2353.7 L1390.7 2354 L1385.6 2354.1 L1380.5 2354.1 L1375.5 2354 L1370.5 2353.8 L1365.5 2353.4 L1360.6 2352.9 L1355.7 2352.3 L1350.9 2351.5 L1346.2 2350.6 L1341.5 2349.6 L1336.9 2348.5 L1332.3 2347.2 L1327.8 2345.8 L1323.3 2344.3 L1319 2342.7 L1314.6 2340.9 L1310.4 2339 L1306.2 2337 L1302.1 2334.9 L1298 2332.6 L1181 2265.1 L1177 2262.7 L1173.1 2260.2 L1169.3 2257.6 L1165.5 2254.8 L1161.8 2252 L1158.2 2249 L1154.7 2245.9 L1151.2 2242.7 L1147.8 2239.4 L1144.5 2235.9 L1141.3 2232.4 L1138.2 2228.7 L1135.1 2224.9 L1132.1 2221 L1129.2 2217.1 L1126.5 2212.9 L1123.7 2208.7 L1121.1 2204.4 L1118.6 2200 L1116.1 2195.5 L1113.8 2190.9 L1111.5 2186.2 L1109.3 2181.3 L1107.3 2176.4 L1105.3 2171.4 L1103.4 2166.3 L1101.6 2161.1 L1099.9 2155.8 L1098.3 2150.5 L1096.8 2145 L1095.3 2139.5 L1094 2133.8 L1092.8 2128.1 L1091.7 2122.3 L1090.7 2116.5 L1089.7 2110.5 L1088.9 2104.5 L1088.1 2098.4 L1087.5 2092.2 L1087 2086 L1086.5 2079.7 L1086.2 2073.3 L1086 2066.9 L1085.8 2060.4 Z" fill="#fff" stroke="#050708" stroke-width="16" stroke-linejoin="round"/>
<ellipse cx="1529" cy="1932.5" rx="462" ry="266" transform="rotate(-60 1529 1932.5)" fill="#fff" stroke="#050708" stroke-width="16"/>
<ellipse cx="1524.5" cy="1932.5" rx="272" ry="157" transform="rotate(-60 1524.5 1932.5)" fill="#fff" stroke="#050708" stroke-width="16"/>
<clipPath id="dRec"><path d="M1657 1703 L1660.4 1705 L1663.6 1707.2 L1666.8 1709.6 L1669.9 1712.1 L1672.8 1714.8 L1675.7 1717.6 L1678.5 1720.5 L1681.1 1723.6 L1683.7 1726.9 L1686.1 1730.2 L1688.4 1733.8 L1690.7 1737.4 L1692.8 1741.2 L1694.8 1745.1 L1696.6 1749.2 L1698.4 1753.3 L1700 1757.6 L1701.5 1762.1 L1702.9 1766.6 L1704.2 1771.2 L1705.3 1776 L1706.4 1780.9 L1707.3 1785.8 L1708.1 1790.9 L1708.7 1796.1 L1709.2 1801.3 L1709.6 1806.7 L1709.9 1812.1 L1710 1817.7 L1710 1823.3 L1709.9 1828.9 L1709.7 1834.7 L1709.3 1840.5 L1708.8 1846.4 L1708.2 1852.3 L1707.5 1858.3 L1706.6 1864.3 L1705.6 1870.4 L1704.5 1876.5 L1703.2 1882.7 L1701.9 1888.9 L1700.4 1895.1 L1698.8 1901.4 L1697.1 1907.7 L1695.2 1914 L1693.3 1920.3 L1691.2 1926.6 L1689 1932.9 L1686.7 1939.2 L1684.3 1945.5 L1681.7 1951.9 L1679.1 1958.1 L1676.4 1964.4 L1673.5 1970.7 L1670.6 1976.9 L1667.5 1983.1 L1664.4 1989.3 L1661.2 1995.4 L1657.8 2001.5 L1654.4 2007.5 L1650.9 2013.5 L1647.3 2019.4 L1643.6 2025.3 L1639.8 2031.1 L1636 2036.8 L1632.1 2042.5 L1628.1 2048.1 L1624 2053.6 L1619.9 2059 L1615.7 2064.3 L1611.4 2069.6 L1607.1 2074.7 L1602.7 2079.8 L1598.3 2084.8 L1593.8 2089.6 L1589.3 2094.4 L1584.7 2099 L1580.1 2103.5 L1575.4 2107.9 L1570.8 2112.2 L1566 2116.4 L1561.3 2120.4 L1556.5 2124.3 L1551.7 2128.1 L1546.9 2131.7 L1542.1 2135.2 L1537.2 2138.6 L1532.4 2141.8 L1527.5 2144.9 L1522.7 2147.8 L1517.8 2150.6 L1513 2153.2 L1508.1 2155.7 L1503.3 2158.1 L1498.5 2160.2 L1493.7 2162.3 L1488.9 2164.1 L1484.1 2165.8 L1479.4 2167.4 L1474.7 2168.8 L1470 2170 L1465.4 2171 L1460.8 2171.9 L1456.3 2172.7 L1451.8 2173.2 L1447.4 2173.6 L1443 2173.9 L1438.6 2173.9 L1434.4 2173.8 L1430.1 2173.6 L1426 2173.2 L1421.9 2172.6 L1417.9 2171.8 L1414 2170.9 L1410.1 2169.8 L1406.3 2168.6 L1402.6 2167.2 L1399 2165.6 L1395.4 2163.9 L1392 2162 L1388.6 2160 L1385.4 2157.8 L1382.2 2155.4 L1379.1 2152.9 L1376.2 2150.2 L1373.3 2147.4 L1370.5 2144.5 L1367.9 2141.4 L1365.3 2138.1 L1362.9 2134.8 L1360.6 2131.2 L1358.3 2127.6 L1356.2 2123.8 L1354.2 2119.9 L1352.4 2115.8 L1350.6 2111.7 L1349 2107.4 L1347.5 2102.9 L1346.1 2098.4 L1344.8 2093.8 L1343.7 2089 L1342.6 2084.1 L1341.7 2079.2 L1340.9 2074.1 L1340.3 2068.9 L1339.8 2063.7 L1339.4 2058.3 L1339.1 2052.9 L1339 2047.3 L1339 2041.7 L1339.1 2036.1 L1339.3 2030.3 L1339.7 2024.5 L1340.2 2018.6 L1340.8 2012.7 L1341.5 2006.7 L1342.4 2000.7 L1343.4 1994.6 L1344.5 1988.5 L1345.8 1982.3 L1347.1 1976.1 L1348.6 1969.9 L1350.2 1963.6 L1351.9 1957.3 L1353.8 1951 L1355.7 1944.7 L1357.8 1938.4 L1360 1932.1 L1362.3 1925.8 L1364.7 1919.5 L1367.3 1913.1 L1369.9 1906.9 L1372.6 1900.6 L1375.5 1894.3 L1378.4 1888.1 L1381.5 1881.9 L1384.6 1875.7 L1387.8 1869.6 L1391.2 1863.5 L1394.6 1857.5 L1398.1 1851.5 L1401.7 1845.6 L1405.4 1839.7 L1409.2 1833.9 L1413 1828.2 L1416.9 1822.5 L1420.9 1816.9 L1425 1811.4 L1429.1 1806 L1433.3 1800.7 L1437.6 1795.4 L1441.9 1790.3 L1446.3 1785.2 L1450.7 1780.2 L1455.2 1775.4 L1459.7 1770.6 L1464.3 1766 L1468.9 1761.5 L1473.6 1757.1 L1478.2 1752.8 L1483 1748.6 L1487.7 1744.6 L1492.5 1740.7 L1497.3 1736.9 L1502.1 1733.3 L1506.9 1729.8 L1511.8 1726.4 L1516.6 1723.2 L1521.5 1720.1 L1526.3 1717.2 L1531.2 1714.4 L1536 1711.8 L1540.9 1709.3 L1545.7 1706.9 L1550.5 1704.8 L1555.3 1702.7 L1560.1 1700.9 L1564.9 1699.2 L1569.6 1697.6 L1574.3 1696.2 L1579 1695 L1583.6 1694 L1588.2 1693.1 L1592.7 1692.3 L1597.2 1691.8 L1601.6 1691.4 L1606 1691.1 L1610.4 1691.1 L1614.6 1691.2 L1618.9 1691.4 L1623 1691.8 L1627.1 1692.4 L1631.1 1693.2 L1635 1694.1 L1638.9 1695.2 L1642.7 1696.4 L1646.4 1697.8 L1650 1699.4 L1653.6 1701.1 L1657 1703 Z"/></clipPath>
<g clip-path="url(#dRec)"><ellipse cx="1505.4" cy="1921.5" rx="272" ry="157" transform="rotate(-60 1505.4 1921.5)" fill="none" stroke="#050708" stroke-width="14"/></g>
<g clip-path="url(#dRec)">
<ellipse cx="1383" cy="2003" rx="92" ry="53" transform="rotate(-60 1383 2003)" fill="#fff" stroke="#050708" stroke-width="16"/>
<path d="M1376 1918 C1371.8 1920.8 1361.7 1932.8 1356 1943 C1350.3 1953.2 1345.3 1967.5 1342 1979 C1338.7 1990.5 1335.3 2004.8 1336 2012 C1336.7 2019.2 1342 2024 1346 2022 C1350 2020 1356 2008.3 1360 2000 C1364 1991.7 1367.2 1981.2 1370 1972 C1372.8 1962.8 1375.2 1952.7 1377 1945 C1378.8 1937.3 1381.2 1930.5 1381 1926 C1380.8 1921.5 1380.2 1915.2 1376 1918 Z" fill="#050708"/>
<path d="M1388 1920 C1388.8 1924.2 1393.2 1935.8 1393 1945 C1392.8 1954.2 1390.3 1965.8 1387 1975 C1383.7 1984.2 1378.3 1992.5 1373 2000 C1367.7 2007.5 1361.2 2014 1355 2020 C1348.8 2026 1339.2 2033.3 1336 2036" fill="none" stroke="#050708" stroke-width="14"/>
<ellipse cx="1633" cy="1850" rx="94" ry="54" transform="rotate(-60 1633 1850)" fill="#fff" stroke="#050708" stroke-width="16"/>
<ellipse cx="1617" cy="1838" rx="72" ry="41" transform="rotate(-60 1617 1838)" fill="#fff" stroke="#050708" stroke-width="14"/>
<ellipse cx="1606" cy="1822" rx="46" ry="25" transform="rotate(-60 1606 1822)" fill="#050708"/>
<ellipse cx="1608" cy="1819" rx="30" ry="6" transform="rotate(-60 1608 1819)" fill="#fff"/>
</g>
<ellipse cx="1508.7" cy="1796.7" rx="50" ry="29" transform="rotate(-60 1508.7 1796.7)" fill="#050708"/><ellipse cx="1505" cy="1795" rx="26" ry="12" transform="rotate(-60 1505 1795)" fill="#fff"/>
<ellipse cx="1508.5" cy="2052" rx="50" ry="29" transform="rotate(-60 1508.5 2052)" fill="#050708"/><ellipse cx="1505.7" cy="2048.6" rx="26" ry="12" transform="rotate(-60 1505.7 2048.6)" fill="#fff"/>
<ellipse cx="1509.7" cy="1924.3" rx="88" ry="52" transform="rotate(-60 1509.7 1924.3)" fill="#050708"/><ellipse cx="1499.8" cy="1919.4" rx="55" ry="33" transform="rotate(-60 1499.8 1919.4)" fill="#fff"/>
<path d="M1560.3 1879.1 L1560.6 1880.9 L1560.8 1882.8 L1561 1884.7 L1561.1 1886.7 L1561.1 1888.8 L1561.1 1890.8 L1561 1893 L1560.9 1895.1 L1560.7 1897.3 L1560.4 1899.5 L1560.1 1901.8 L1559.7 1904.1 L1559.2 1906.4 L1558.7 1908.7 L1558.1 1911.1 L1557.5 1913.4 L1556.8 1915.8 L1556.1 1918.2 L1555.2 1920.6 L1554.4 1923 L1553.5 1925.4 L1552.5 1927.8 L1551.5 1930.2 L1550.4 1932.6 L1549.3 1934.9 L1548.1 1937.3 L1546.9 1939.7 L1545.6 1942 L1544.3 1944.3 L1543 1946.6 L1541.6 1948.8 L1540.2 1951.1 L1538.7 1953.3 L1537.2 1955.4 L1535.7 1957.5 L1534.1 1959.6 L1532.5 1961.7 L1530.9 1963.7 L1529.3 1965.6 L1527.6 1967.5" fill="none" stroke="#fff" stroke-width="2.5"/>
<use href="#screw" transform="translate(1956.2 2059.6) rotate(29.7)"/>
<use href="#screw" transform="translate(1722.2 2193.6) rotate(29.7)"/>
<path d="M2524.5 2768.5 L2524.6 2764.2 L2524.7 2759.8 L2524.9 2755.4 L2525.2 2750.9 L2525.5 2746.4 L2525.8 2741.9 L2526.3 2737.4 L2526.8 2732.8 L2527.3 2728.3 L2528 2723.7 L2528.7 2719.1 L2529.4 2714.4 L2530.2 2709.8 L2531.1 2705.1 L2532.1 2700.4 L2533.1 2695.7 L2534.1 2691 L2535.2 2686.3 L2536.4 2681.5 L2537.7 2676.8 L2539 2672.1 L2540.3 2667.3 L2541.8 2662.6 L2543.2 2657.8 L2544.8 2653 L2546.4 2648.3 L2548 2643.5 L2549.7 2638.8 L2551.5 2634.1 L2553.3 2629.3 L2555.2 2624.6 L2557.1 2619.9 L2559.1 2615.2 L2561.1 2610.5 L2563.2 2605.8 L2565.3 2601.2 L2567.5 2596.5 L2569.8 2591.9 L2572.1 2587.3 L2574.4 2582.7 L2576.8 2578.1 L2579.2 2573.6 L2581.7 2569.1 L2584.2 2564.6 L2586.8 2560.1 L2589.4 2555.7 L2592.1 2551.3 L2594.8 2547 L2597.5 2542.6 L2600.3 2538.3 L2603.1 2534.1 L2606 2529.8 L2608.9 2525.7 L2611.8 2521.5 L2614.8 2517.4 L2617.8 2513.4 L2620.9 2509.3 L2624 2505.4 L2627.1 2501.4 L2630.2 2497.6 L2633.4 2493.7 L2636.6 2490 L2639.9 2486.2 L2643.1 2482.6 L2646.4 2478.9 L2649.8 2475.4 L2653.1 2471.9 L2656.5 2468.4 L2659.9 2465 L2663.3 2461.7 L2666.7 2458.4 L2670.2 2455.2 L2673.7 2452 L2677.2 2448.9 L2680.7 2445.9 L2684.2 2442.9 L2687.8 2440 L2691.3 2437.2 L2694.9 2434.4 L2698.5 2431.7 L2702.1 2429.1 L2705.7 2426.5 L2709.3 2424 L2712.9 2421.6 L2716.5 2419.2 L2720.2 2416.9 L2723.8 2414.7 L2727.4 2412.6 L2731.1 2410.6 L2734.7 2408.6 L2738.3 2406.7 L2742 2404.8 L2745.6 2403.1 L2749.2 2401.4 L2752.9 2399.8 L2756.5 2398.3 L2760.1 2396.8 L2763.7 2395.5 L2767.3 2394.2 L2770.9 2393 L2774.4 2391.9 L2778 2390.8 L2781.6 2389.9 L2785.1 2389 L2788.6 2388.2 L2792.1 2387.5 L2795.6 2386.8 L2799 2386.3 L2802.5 2385.8 L2805.9 2385.4 L2809.3 2385.1 L2812.7 2384.9 L2816 2384.8 L2819.3 2384.7 L2822.7 2384.8 L2825.9 2384.9 L2829.2 2385.1 L2832.4 2385.3 L2835.6 2385.7 L2838.7 2386.2 L2841.8 2386.7 L2844.9 2387.3 L2848 2388 L2851 2388.8 L2854 2389.6 L2856.9 2390.5 L2859.8 2391.6 L2862.7 2392.7 L2865.5 2393.8 L2868.3 2395.1 L2871.1 2396.4 L2873.8 2397.8 L2876.4 2399.3 L3082.4 2518.2 L3085 2519.8 L3087.6 2521.5 L3090.2 2523.2 L3092.6 2525 L3095.1 2526.9 L3097.5 2528.9 L3099.8 2530.9 L3102.1 2533 L3104.3 2535.2 L3106.5 2537.4 L3108.7 2539.8 L3110.8 2542.2 L3112.8 2544.7 L3114.8 2547.2 L3116.7 2549.8 L3118.6 2552.5 L3120.4 2555.2 L3122.2 2558.1 L3123.9 2560.9 L3125.5 2563.9 L3127.1 2566.9 L3128.7 2570 L3130.2 2573.1 L3131.6 2576.3 L3132.9 2579.6 L3134.2 2582.9 L3135.5 2586.3 L3136.7 2589.7 L3137.8 2593.2 L3138.9 2596.8 L3139.9 2600.4 L3140.8 2604.1 L3141.7 2607.8 L3142.5 2611.5 L3143.3 2615.3 L3144 2619.2 L3144.6 2623.1 L3145.2 2627.1 L3145.7 2631.1 L3146.1 2635.1 L3146.5 2639.2 L3146.8 2643.3 L3147.1 2647.5 L3147.3 2651.7 L3147.4 2656 L3147.5 2660.3 L3147.5 2664.6 L3147.4 2668.9 L3147.3 2673.3 L3147.1 2677.7 L3146.8 2682.2 L3146.5 2686.7 L3146.2 2691.2 L3145.7 2695.7 L3145.2 2700.3 L3144.7 2704.8 L3144 2709.4 L3143.3 2714.1 L3142.6 2718.7 L3141.8 2723.3 L3140.9 2728 L3139.9 2732.7 L3138.9 2737.4 L3137.9 2742.1 L3136.8 2746.8 L3135.6 2751.6 L3134.3 2756.3 L3133 2761.1 L3131.7 2765.8 L3130.2 2770.6 L3128.8 2775.3 L3127.2 2780.1 L3125.6 2784.8 L3124 2789.6 L3122.3 2794.3 L3120.5 2799 L3118.7 2803.8 L3116.8 2808.5 L3114.9 2813.2 L3112.9 2817.9 L3110.9 2822.6 L3108.8 2827.3 L3106.7 2831.9 L3104.5 2836.6 L3102.2 2841.2 L3099.9 2845.8 L3097.6 2850.4 L3095.2 2855 L3092.8 2859.5 L3090.3 2864 L3087.8 2868.5 L3085.2 2873 L3082.6 2877.4 L3079.9 2881.8 L3077.2 2886.1 L3074.5 2890.5 L3071.7 2894.8 L3068.9 2899 L3066 2903.2 L3063.1 2907.4 L3060.2 2911.6 L3057.2 2915.7 L3054.2 2919.7 L3051.1 2923.8 L3048 2927.7 L3044.9 2931.7 L3041.8 2935.5 L3038.6 2939.4 L3035.4 2943.1 L3032.1 2946.9 L3028.9 2950.5 L3025.6 2954.2 L3022.2 2957.7 L3018.9 2961.2 L3015.5 2964.7 L3012.1 2968.1 L3008.7 2971.4 L3005.3 2974.7 L3001.8 2977.9 L2998.3 2981.1 L2994.8 2984.2 L2991.3 2987.2 L2987.8 2990.2 L2984.2 2993.1 L2980.7 2995.9 L2977.1 2998.7 L2973.5 3001.4 L2969.9 3004.1 L2966.3 3006.6 L2962.7 3009.1 L2959.1 3011.5 L2955.5 3013.9 L2951.8 3016.2 L2948.2 3018.4 L2944.6 3020.5 L2940.9 3022.6 L2937.3 3024.5 L2933.7 3026.4 L2930 3028.3 L2926.4 3030 L2922.8 3031.7 L2919.1 3033.3 L2915.5 3034.8 L2911.9 3036.3 L2908.3 3037.6 L2904.7 3038.9 L2901.1 3040.1 L2897.6 3041.2 L2894 3042.3 L2890.4 3043.2 L2886.9 3044.1 L2883.4 3044.9 L2879.9 3045.6 L2876.4 3046.2 L2873 3046.8 L2869.5 3047.3 L2866.1 3047.7 L2862.7 3048 L2859.3 3048.2 L2856 3048.3 L2852.7 3048.4 L2849.3 3048.3 L2846.1 3048.2 L2842.8 3048 L2839.6 3047.8 L2836.4 3047.4 L2833.3 3046.9 L2830.2 3046.4 L2827.1 3045.8 L2824 3045.1 L2821 3044.3 L2818 3043.5 L2815.1 3042.6 L2812.2 3041.5 L2809.3 3040.4 L2806.5 3039.3 L2803.7 3038 L2800.9 3036.7 L2798.2 3035.2 L2795.6 3033.8 L2589.6 2914.8 L2587 2913.3 L2584.4 2911.6 L2581.8 2909.9 L2579.4 2908.1 L2576.9 2906.2 L2574.5 2904.2 L2572.2 2902.2 L2569.9 2900.1 L2567.7 2897.9 L2565.5 2895.7 L2563.3 2893.3 L2561.2 2890.9 L2559.2 2888.4 L2557.2 2885.9 L2555.3 2883.3 L2553.4 2880.6 L2551.6 2877.9 L2549.8 2875 L2548.1 2872.2 L2546.5 2869.2 L2544.9 2866.2 L2543.3 2863.1 L2541.8 2860 L2540.4 2856.8 L2539.1 2853.5 L2537.8 2850.2 L2536.5 2846.8 L2535.3 2843.4 L2534.2 2839.9 L2533.1 2836.3 L2532.1 2832.7 L2531.2 2829.1 L2530.3 2825.3 L2529.5 2821.6 L2528.7 2817.8 L2528 2813.9 L2527.4 2810 L2526.8 2806 L2526.3 2802 L2525.9 2798 L2525.5 2793.9 L2525.2 2789.8 L2524.9 2785.6 L2524.7 2781.4 L2524.6 2777.1 L2524.5 2772.8 Z" fill="#fff" stroke="#231f20" stroke-width="16" stroke-linejoin="round"/>
<ellipse cx="2939" cy="2776" rx="295" ry="175" transform="rotate(-61.5 2939 2776)" fill="#fff" stroke="#231f20" stroke-width="16"/>
<ellipse cx="2960" cy="2790" rx="180" ry="128" transform="rotate(-64 2960 2790)" fill="#fff" stroke="#231f20" stroke-width="15"/>
<ellipse cx="2952.6" cy="2811.8" rx="145" ry="99" transform="rotate(-68 2952.6 2811.8)" fill="#fff" stroke="#231f20" stroke-width="22"/>
<ellipse cx="2976" cy="2797" rx="100" ry="62" transform="rotate(-64 2976 2797)" fill="#fff" stroke="#231f20" stroke-width="17"/>
<path d="M2960 2720 C2930 2740 2905 2790 2910 2830 C2925 2800 2945 2760 2965 2740 Z" fill="#231f20"/>
<ellipse cx="2999.4" cy="2679" rx="36" ry="31" transform="rotate(-60 2999.4 2679)" fill="#fff" stroke="#231f20" stroke-width="15"/>
<ellipse cx="3004.4" cy="2677" rx="24" ry="17" transform="rotate(-60 3004.4 2677)" fill="#231f20"/>
<ellipse cx="2993.2" cy="2937.8" rx="36" ry="31" transform="rotate(-60 2993.2 2937.8)" fill="#fff" stroke="#231f20" stroke-width="15"/>
<ellipse cx="2998.2" cy="2935.8" rx="24" ry="17" transform="rotate(-60 2998.2 2935.8)" fill="#231f20"/>
<path d="M2918 2632 L2932 2617 L2986 2648 L2975 2672 L2925 2660 Z" fill="#fff" stroke="#231f20" stroke-width="14" stroke-linejoin="round"/>
<g transform="translate(3256.5 2965.3) rotate(30)">
<path d="M0 -86 L240 -86 L240 86 L0 86 A45 86 0 0 1 0 -86 Z" fill="#231f20"/>
<path d="M172 -73 L250 -73 L250 73 L172 73 A32 73 0 0 1 172 -73 Z" fill="#fff"/>
<path d="M-2 -62 A30 64 0 0 0 -2 62 A26 62 0 0 1 -2 -62 Z" fill="#fff"/>
<path d="M21 -62 A30 64 0 0 0 21 62 A26 62 0 0 1 21 -62 Z" fill="#fff"/>
<path d="M44 -62 A30 64 0 0 0 44 62 A26 62 0 0 1 44 -62 Z" fill="#fff"/>
<path d="M67 -62 A30 64 0 0 0 67 62 A26 62 0 0 1 67 -62 Z" fill="#fff"/>
<path d="M90 -62 A30 64 0 0 0 90 62 A26 62 0 0 1 90 -62 Z" fill="#fff"/>
<path d="M113 -62 A30 64 0 0 0 113 62 A26 62 0 0 1 113 -62 Z" fill="#fff"/>
<path d="M136 -62 A30 64 0 0 0 136 62 A26 62 0 0 1 136 -62 Z" fill="#fff"/>
</g>
<path d="M3580 2950 C3566 2959.2 3518.3 2985.3 3496 3005 C3473.7 3024.7 3460.3 3042 3446 3068 C3431.7 3094 3417.7 3134.5 3410 3161 C3402.3 3187.5 3400 3204.8 3400 3227 C3400 3249.2 3403.3 3274.7 3410 3294 C3416.7 3313.3 3435 3334.8 3440 3343 L3569 3390  C3573.5 3382.7 3592.7 3361 3596 3346 C3599.3 3331 3592.2 3315.5 3589 3300 C3585.8 3284.5 3580.7 3268.5 3577 3253 C3573.3 3237.5 3569 3222.3 3567 3207 C3565 3191.7 3564.3 3177.5 3565 3161 C3565.7 3144.5 3568.8 3134.8 3571 3108 C3573.2 3081.2 3576.8 3018 3578 3000 Z" fill="#fff" stroke="#231f20" stroke-width="15" stroke-linejoin="round"/>
<path d="M3850 3100 L3990 2960 L4071 2985 L4071 3640 L4055 3652 L3850 3540 Z" fill="#fff"/>
<path d="M3997 2950 L3968 3555" stroke="#231f20" stroke-width="24" fill="none"/>
<path d="M4037 2985 L4037 3596" stroke="#231f20" stroke-width="16" fill="none"/>
<path d="M4063 2975 L4063 3630 Q4063 3652 4045 3642 L3850 3538" stroke="#231f20" stroke-width="16" fill="none" stroke-linejoin="round"/>
<path d="M3850 3497 Q3920 3500 3965 3540 L3975 3560 L3855 3530 Z" fill="#231f20"/>
<path d="M3580 2955 L3579 3070 C3577.7 3076.3 3573.3 3092.8 3571 3108 C3568.7 3123.2 3565.7 3144.5 3565 3161 C3564.3 3177.5 3565 3191.7 3567 3207 C3569 3222.3 3573.3 3237.5 3577 3253 C3580.7 3268.5 3585.8 3284.5 3589 3300 C3592.2 3315.5 3596.7 3332.7 3596 3346 C3595.3 3359.3 3587.7 3367.7 3585 3380 C3582.3 3392.3 3580.8 3413.3 3580 3420 L3580 3625 C3580 3690 3660 3740 3830 3757 L3840 3757 L3840 3110 C3780 3100 3660 3075 3585 3010 Z" fill="#fff" stroke="#231f20" stroke-width="16" stroke-linejoin="round"/>
<path d="M3840 3105 L3840 3745 Q3840 3762 3825 3760" stroke="#231f20" stroke-width="30" fill="none" stroke-linecap="round"/>
<clipPath id="hRim"><rect x="3500" y="2700" width="571.5" height="600"/></clipPath>
<g clip-path="url(#hRim)">
<ellipse cx="3820" cy="2961" rx="251" ry="145.4" fill="#231f20"/>
<ellipse cx="3819.5" cy="2961" rx="200.5" ry="112" fill="none" stroke="#fff" stroke-width="3"/>
<ellipse cx="3808" cy="2962" rx="162" ry="93" fill="#fff"/>
</g>
<path d="M3856 3040 L3930 3010 L3990 2955 L3990 3200 L3856 3200 Z" fill="#fff"/>
<path d="M3997 2950 L3968 3555" stroke="#231f20" stroke-width="24" fill="none"/>
<path d="M3905 2900 L3975 2935 L3968 3062 L3903 3030 Z" fill="#fff" stroke="#231f20" stroke-width="24" stroke-linejoin="round"/>
<path d="M3962 2940 C3945 2980 3945 3030 3960 3060 L3970 3060 L3975 2940 Z" fill="#231f20"/>
</svg>
</body></html>
